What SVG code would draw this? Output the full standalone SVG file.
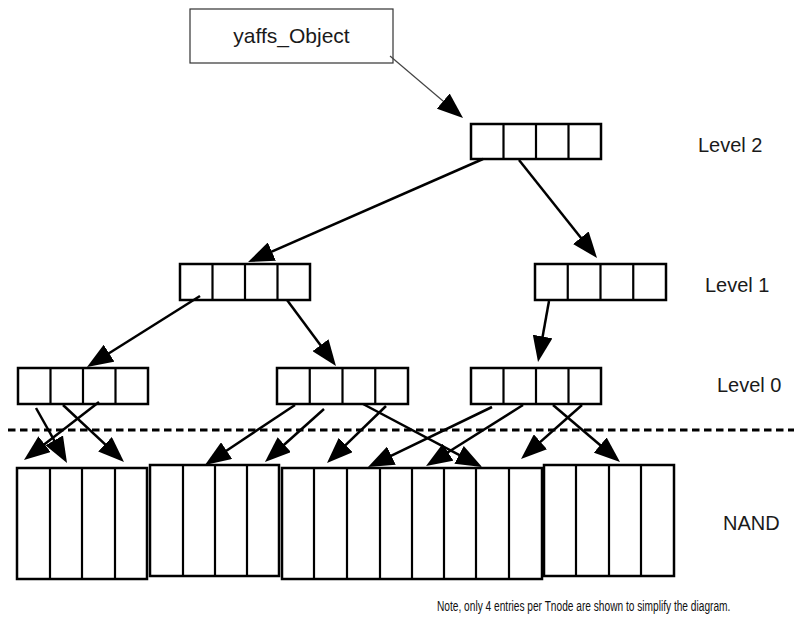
<svg xmlns="http://www.w3.org/2000/svg" width="794" height="637" viewBox="0 0 794 637">
<style>
.node{fill:#fff;stroke:#000;stroke-width:2.5}
.div{stroke:#000;stroke-width:2.2}
.lbl{font-family:"Liberation Sans",Arial,sans-serif;font-size:20px;fill:#1a1a1a}
.title{font-family:"Liberation Sans",Arial,sans-serif;font-size:21px;fill:#1a1a1a}
.note{font-family:"Liberation Sans",Arial,sans-serif;font-size:15px;fill:#111}
.arr{stroke:#000;stroke-width:2.5;fill:none;marker-end:url(#ah)}
.thin{stroke:#444;stroke-width:1.2;fill:none;marker-end:url(#ah)}
</style>
<defs>
<marker id="ah" markerUnits="userSpaceOnUse" viewBox="0 0 26 20" markerWidth="26" markerHeight="20" refX="16" refY="10" orient="auto">
<path d="M0,0 L26,10 L0,20 Z" fill="#000"/>
</marker>
</defs>
<rect width="794" height="637" fill="#fff"/>

<g id="yaffs_object">
<rect x="190" y="9" width="203" height="54" fill="#fff" stroke="#333" stroke-width="1.2"/>
<text class="title" x="291.5" y="43" text-anchor="middle">yaffs_Object</text>
</g>

<g id="level2_node">
<rect class="node" x="471" y="124" width="130" height="35"/>
<path class="div" d="M503.5,124V159M536,124V159M568.5,124V159"/>
</g>
<g id="level1_left">
<rect class="node" x="180" y="264" width="130" height="36"/>
<path class="div" d="M212.5,264V300M245,264V300M277.5,264V300"/>
</g>
<g id="level1_right">
<rect class="node" x="535" y="264" width="131" height="36"/>
<path class="div" d="M567.75,264V300M600.5,264V300M633.25,264V300"/>
</g>
<g id="level0_left">
<rect class="node" x="18" y="368" width="130" height="36"/>
<path class="div" d="M50.5,368V404M83,368V404M115.5,368V404"/>
</g>
<g id="level0_mid">
<rect class="node" x="277" y="368" width="131" height="36"/>
<path class="div" d="M309.75,368V404M342.5,368V404M375.25,368V404"/>
</g>
<g id="level0_right">
<rect class="node" x="471" y="368" width="130" height="36"/>
<path class="div" d="M503.5,368V404M536,368V404M568.5,368V404"/>
</g>

<g id="nand_block1">
<rect class="node" x="17" y="468" width="130" height="111"/>
<path class="div" d="M50,468V579M82,468V579M115,468V579"/>
</g>
<g id="nand_block2">
<rect class="node" x="150" y="465" width="129" height="111"/>
<path class="div" d="M183,465V576M215,465V576M247,465V576"/>
</g>
<g id="nand_block3">
<rect class="node" x="282" y="468" width="260" height="111"/>
<path class="div" d="M314,468V579M347,468V579M380,468V579M412,468V579M444,468V579M476,468V579M509,468V579"/>
</g>
<g id="nand_block4">
<rect class="node" x="544" y="465" width="130" height="111"/>
<path class="div" d="M576,465V576M609,465V576M641,465V576"/>
</g>

<line id="nand_divider" x1="8" y1="430" x2="794" y2="430" stroke="#000" stroke-width="3" stroke-dasharray="7.5 4.5"/>

<g id="connectors">
<line class="thin" x1="390" y1="56" x2="455.4" y2="111.5"/>
<line class="arr" x1="483" y1="159" x2="257.2" y2="258"/>
<line class="arr" x1="519" y1="160" x2="590.8" y2="250.2"/>
<line class="arr" x1="200" y1="296" x2="95.5" y2="361.7"/>
<line class="arr" x1="287" y1="300" x2="330" y2="358"/>
<line class="arr" x1="549" y1="301" x2="539.8" y2="352.2"/>
<line class="arr" x1="36" y1="408" x2="62.1" y2="454.3"/>
<line class="arr" x1="63" y1="405" x2="116.7" y2="455.2"/>
<line class="arr" x1="99" y1="402" x2="31.9" y2="453.9"/>
<line class="arr" x1="295" y1="405" x2="213.3" y2="459.5"/>
<line class="arr" x1="324" y1="409" x2="272.4" y2="455.3"/>
<line class="arr" x1="386" y1="406" x2="334.2" y2="456.1"/>
<line class="arr" x1="363" y1="404" x2="473.2" y2="462.3"/>
<line class="arr" x1="492" y1="407" x2="377" y2="462.6"/>
<line class="arr" x1="523" y1="405" x2="434.5" y2="460.7"/>
<line class="arr" x1="582" y1="405" x2="528.5" y2="452.4"/>
<line class="arr" x1="553" y1="405" x2="612.4" y2="455.5"/>
</g>

<g id="labels">
<text class="lbl" x="698" y="152">Level 2</text>
<text class="lbl" x="705" y="292">Level 1</text>
<text class="lbl" x="717" y="392">Level 0</text>
<text class="lbl" x="723" y="530">NAND</text>
<text class="note" transform="translate(437,611) scale(0.678,1)">Note, only 4 entries per Tnode are shown to simplify the diagram.</text>
</g>
</svg>
